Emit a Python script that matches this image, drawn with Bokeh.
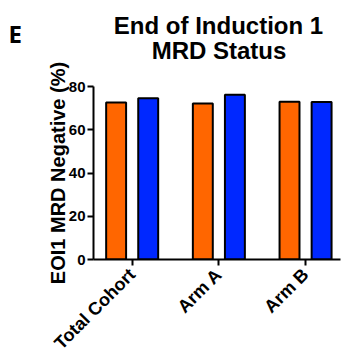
import numpy as np
from bokeh.plotting import figure
from bokeh.models import Range1d, FixedTicker, ColumnDataSource
from bokeh.core.properties import value
from bokeh.embed import file_html
from bokeh.resources import INLINE

categories = ["Total Cohort", "Arm A", "Arm B"]
series_orange = [72.6, 72.1, 72.9]
series_blue = [74.6, 76.2, 72.8]
y_ticks = [0, 20, 40, 60, 80]
title_lines = ["End of Induction 1", "MRD Status"]
panel_letter = "E"
y_label = "EOI1 MRD Negative (%)"

ORANGE = "#FF6600"
BLUE = "#0028FF"
FONT = "Liberation Sans"

W = 343
HEAD_H = 62

# ---- header (titles), a separate root so its frame is not aligned ----
h = figure(width=W, height=HEAD_H, output_backend="svg", toolbar_location=None,
           x_range=Range1d(0, W), y_range=Range1d(HEAD_H, 0), min_border=0)
h.axis.visible = False
h.grid.visible = False
h.outline_line_color = None
h.text(x=[218, 218.5], y=[25, 49.5], text=title_lines, text_align="center",
       text_baseline="middle", text_font=value(FONT), text_font_style="bold",
       text_font_size="24px", text_color="black")
h.text(x=[8], y=[33], text=[panel_letter], text_align="left",
       text_baseline="middle", text_font=value("Open Sans"), text_font_style="bold",
       text_font_size="24px", text_color="black")

# ---- main plot ----
xpos = np.arange(len(categories))
offset = 0.185
bw = 0.23

p = figure(width=W, height=363 - HEAD_H, output_backend="svg", toolbar_location=None,
           x_range=Range1d(-0.446, 2.403), y_range=Range1d(0, 80),
           min_border_left=93, min_border_right=3, min_border_top=86 - HEAD_H,
           min_border_bottom=104)
p.outline_line_color = None
p.grid.grid_line_color = None

src_o = ColumnDataSource(dict(x=xpos - offset, top=series_orange))
src_b = ColumnDataSource(dict(x=xpos + offset, top=series_blue))
p.vbar(x="x", top="top", bottom=0, width=bw, source=src_o,
       fill_color=ORANGE, line_color="black", line_width=2)
p.vbar(x="x", top="top", bottom=0, width=bw, source=src_b,
       fill_color=BLUE, line_color="black", line_width=2)

p.xaxis.ticker = FixedTicker(ticks=list(xpos))
p.xaxis.major_label_overrides = {int(i): c for i, c in zip(xpos, categories)}
p.xaxis.major_label_orientation = np.pi / 4
p.yaxis.ticker = FixedTicker(ticks=y_ticks)
for ax in (p.xaxis, p.yaxis):
    ax.axis_line_width = 2
    ax.axis_line_color = "black"
    ax.major_tick_line_width = 2
    ax.major_tick_line_color = "black"
    ax.major_tick_in = 0
    ax.major_tick_out = 6
    ax.minor_tick_line_color = None
    ax.major_label_text_font = FONT
    ax.major_label_text_font_style = "bold"
    ax.major_label_text_color = "black"
    ax.major_label_standoff = 2
p.yaxis.major_label_text_font_size = "15px"
p.xaxis.major_label_text_font_size = "18px"
p.xaxis.major_label_standoff = 6

p.yaxis.axis_label = y_label
p.yaxis.axis_label_text_font = FONT
p.yaxis.axis_label_text_font_style = "bold"
p.yaxis.axis_label_text_font_size = "20px"
p.yaxis.axis_label_text_color = "black"
p.yaxis.axis_label_standoff = -3

open("out.html", "w").write(file_html([h, p], INLINE))
